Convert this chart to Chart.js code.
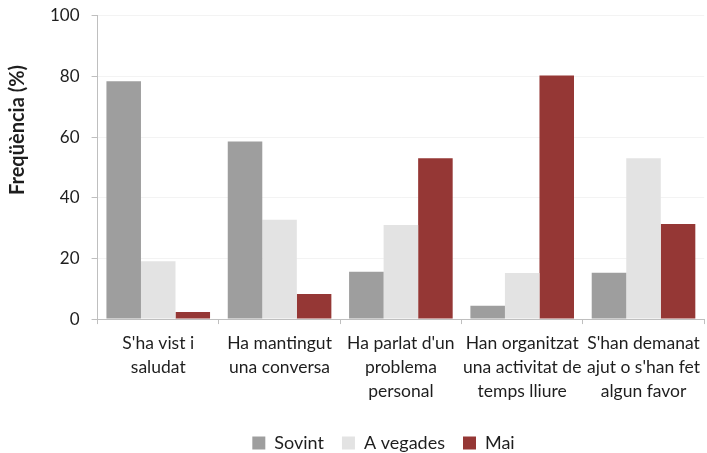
<!DOCTYPE html>
<html>
<head>
<meta charset="utf-8">
<script src="https://cdn.jsdelivr.net/npm/chart.js@4"></script>
<style>
  html, body { margin: 0; padding: 0; background: #fff; }
  #wrap { width: 707px; height: 453px; position: relative; }
</style>
</head>
<body>
<div id="wrap"><canvas id="freqChart"></canvas></div>
<script>
// Data
const categories = [
    ["S'ha vist i", "saludat"],
    ["Ha mantingut", "una conversa"],
    ["Ha parlat d'un", "problema", "personal"],
    ["Han organitzat", "una activitat de", "temps lliure"],
    ["S'han demanat", "ajut o s'han fet", "algun favor"]
];
const sovint = [78.5, 58.6, 15.6, 4.4, 15.3];
const aVegades = [19.1, 32.8, 31.0, 15.2, 53.1];
const mai = [2.3, 8.3, 53.1, 80.4, 31.4];
const yTicks = [0, 20, 40, 60, 80, 100];
const yTitle = 'Freqüència (%)';

const FONT = "Lato, 'Open Sans', sans-serif";
const TEXT = '#1e1e1e';

// Excel puts the axis title above the middle and the legend a bit right of centre
const excelLayout = {
    id: 'excelLayout',
    afterLayout(chart) {
        const lg = chart.legend;
        if (lg) {
            lg.left += 11;
            lg.right += 11;
        }
    },
    afterDraw(chart) {
        const ctx = chart.ctx;
        ctx.save();
        ctx.translate(18, 130);
        ctx.rotate(-Math.PI / 2);
        ctx.font = `bold 20px ${FONT}`;
        ctx.fillStyle = TEXT;
        ctx.textAlign = 'center';
        ctx.textBaseline = 'middle';
        ctx.fillText(yTitle, 0, 0);
        ctx.restore();
    }
};

function initializeChart() {
    const ctx = document.getElementById('freqChart').getContext('2d');
    return new Chart(ctx, {
        type: 'bar',
        data: {
            labels: categories,
            datasets: [
                { label: 'Sovint', data: sovint, backgroundColor: '#9e9e9e' },
                { label: 'A vegades', data: aVegades, backgroundColor: '#e3e3e3' },
                { label: 'Mai', data: mai, backgroundColor: '#953735' }
            ]
        },
        plugins: [excelLayout],
        options: {
            responsive: true,
            maintainAspectRatio: false,
            animation: false,
            datasets: {
                bar: { categoryPercentage: 0.854, barPercentage: 1.0 }
            },
            layout: { padding: { top: 0, right: 0, left: 38, bottom: -9 } },
            plugins: {
                legend: {
                    position: 'bottom',
                    labels: {
                        boxWidth: 13,
                        boxHeight: 13,
                        padding: 18,
                        color: TEXT,
                        font: { family: FONT, size: 18 }
                    }
                },
                tooltip: { enabled: false }
            },
            scales: {
                x: {
                    grid: {
                        display: true,
                        offset: true,
                        drawOnChartArea: false,
                        tickLength: 5,
                        tickColor: '#bfbfbf'
                    },
                    border: { color: '#bfbfbf', width: 1 },
                    ticks: {
                        maxRotation: 0,
                        autoSkip: false,
                        padding: 7,
                        color: TEXT,
                        font: { family: FONT, size: 17.5, lineHeight: 1.37 }
                    },
                    afterFit: scale => { scale.height += 6; }
                },
                y: {
                    min: 0,
                    max: 100,
                    afterBuildTicks: axis => {
                        axis.ticks = yTicks.map(v => ({ value: v }));
                    },
                    grid: {
                        color: '#f3f3f3',
                        tickColor: '#bfbfbf',
                        tickLength: 6
                    },
                    border: { color: '#bfbfbf', width: 1 },
                    ticks: {
                        padding: 12,
                        color: TEXT,
                        // small line height only trims the space kept above the top label
                        font: { family: FONT, size: 17, lineHeight: 0.47 }
                    }
                }
            }
        }
    });
}

document.addEventListener('DOMContentLoaded', () => {
    initializeChart();
});
</script>
</body>
</html>
